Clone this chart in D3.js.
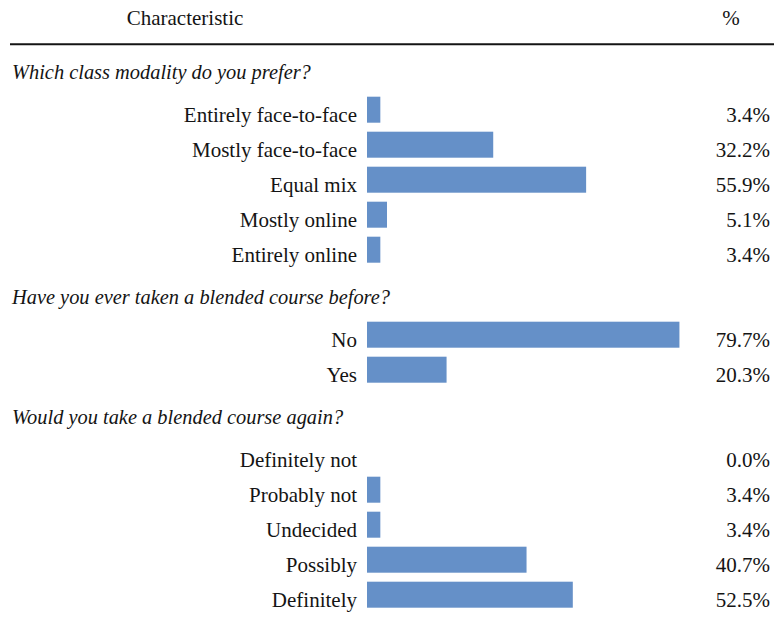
<!DOCTYPE html>
<html>
<head>
<meta charset="utf-8">
<script src="https://cdn.jsdelivr.net/npm/d3@7"></script>
<style>
  html, body { margin: 0; padding: 0; background: #fff; }
  svg { display: block; }
  svg text { font-family: "Liberation Serif", "Tinos", "Times New Roman", "DejaVu Serif", serif; }
</style>
</head>
<body>
<div id="chart"></div>
<script>
// Survey responses, grouped by question
const questions = [
  "Which class modality do you prefer?",
  "Have you ever taken a blended course before?",
  "Would you take a blended course again?"
];
const modalityCategories = ["Entirely face-to-face", "Mostly face-to-face", "Equal mix", "Mostly online", "Entirely online"];
const modalityValues = [3.4, 32.2, 55.9, 5.1, 3.4];
const priorCategories = ["No", "Yes"];
const priorValues = [79.7, 20.3];
const againCategories = ["Definitely not", "Probably not", "Undecided", "Possibly", "Definitely"];
const againValues = [0.0, 3.4, 3.4, 40.7, 52.5];
const headerLabels = ["Characteristic", "%"];

const groups = [
  { title: questions[0], cats: modalityCategories, vals: modalityValues },
  { title: questions[1], cats: priorCategories, vals: priorValues },
  { title: questions[2], cats: againCategories, vals: againValues }
];

const width = 774, height = 626;
const svg = d3.select("#chart").append("svg")
  .attr("width", width).attr("height", height)
  .attr("font-family", "Liberation Serif, Tinos, Times New Roman, DejaVu Serif, serif");

// Row layout: each question heading takes a taller slot than a response row
const headingUnits = 50 / 35;
const rows = [];
const headings = [];
let pos = 0;
groups.forEach(g => {
  headings.push({ title: g.title, pos: pos });
  pos += headingUnits;
  g.cats.forEach((c, i) => {
    rows.push({ cat: c, val: g.vals[i], pos: pos });
    pos += 1;
  });
});

const firstTop = 96.7 - 35 * headingUnits;
const y = d3.scaleLinear().domain([0, 1]).range([firstTop, firstTop + 35]);
const x = d3.scaleLinear().domain([0, 100]).range([367, 759]);
const barH = 26;
const fmt = d3.format(".1f");
const fontSize = 21;
const headingSize = 20.4;
const ink = "#141414";

// Header row and rule
svg.append("text")
  .attr("x", 185).attr("y", 25)
  .attr("text-anchor", "middle")
  .attr("font-size", fontSize).attr("fill", ink)
  .text(headerLabels[0]);
svg.append("text")
  .attr("x", 731).attr("y", 25)
  .attr("text-anchor", "middle")
  .attr("font-size", fontSize).attr("fill", ink)
  .text(headerLabels[1]);
svg.append("line")
  .attr("x1", 10).attr("x2", width)
  .attr("y1", 44.3).attr("y2", 44.3)
  .attr("stroke", ink).attr("stroke-width", 2);

// Question headings
svg.selectAll("text.heading")
  .data(headings)
  .join("text")
  .attr("class", "heading")
  .attr("x", 12)
  .attr("y", d => y(d.pos + headingUnits) - 18)
  .attr("font-size", headingSize)
  .attr("font-style", "italic")
  .attr("fill", ink)
  .text(d => d.title);

// Response bars
svg.selectAll("rect.bar")
  .data(rows.filter(d => d.val > 0))
  .join("rect")
  .attr("class", "bar")
  .attr("x", x(0))
  .attr("y", d => y(d.pos))
  .attr("width", d => x(d.val) - x(0))
  .attr("height", barH)
  .attr("fill", "#6590c8");

// Category labels
svg.selectAll("text.cat")
  .data(rows)
  .join("text")
  .attr("class", "cat")
  .attr("x", 357)
  .attr("y", d => y(d.pos) + barH - 0.5)
  .attr("text-anchor", "end")
  .attr("font-size", fontSize)
  .attr("fill", ink)
  .text(d => d.cat);

// Percentage values
svg.selectAll("text.pct")
  .data(rows)
  .join("text")
  .attr("class", "pct")
  .attr("x", 770)
  .attr("y", d => y(d.pos) + barH - 0.5)
  .attr("text-anchor", "end")
  .attr("font-size", fontSize)
  .attr("fill", ink)
  .text(d => fmt(d.val) + "%");
</script>
</body>
</html>
